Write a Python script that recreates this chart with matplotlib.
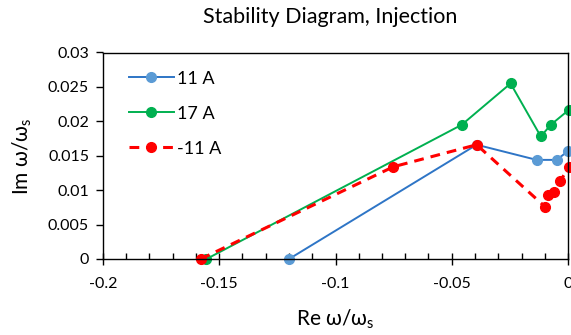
import matplotlib
matplotlib.use("Agg")
import matplotlib.pyplot as plt
from matplotlib.ticker import MultipleLocator, FuncFormatter

plt.rcParams['font.family'] = ['Lato', 'DejaVu Sans']
plt.rcParams['mathtext.default'] = 'regular'

# Re / Im of the normalised frequency for each current
re_11 = [-0.12, -0.0393, -0.0135, -0.0049, 0.0001]
im_11 = [0.0, 0.0166, 0.0144, 0.0144, 0.0157]

re_17 = [-0.1555, -0.0457, -0.0247, -0.0117, -0.0074, 0.0005]
im_17 = [0.0, 0.0195, 0.0255, 0.0178, 0.0195, 0.0217]

re_m11 = [-0.158, -0.0751, -0.0393, -0.0099, -0.0085, -0.006, -0.0034, 0.0005]
im_m11 = [0.0, 0.0134, 0.0166, 0.0076, 0.0093, 0.0098, 0.0113, 0.0134]

fig = plt.figure(figsize=(5.71, 3.35), dpi=100)
ax = fig.add_axes([103 / 571, 1 - 259 / 335, 465 / 571, 206.5 / 335])

ax.plot(re_11, im_11, color='#2E75C6', lw=1.4, marker='o', ms=7,
        mfc='#5B9BD5', mec='#5B9BD5', label='11 A', clip_on=False)
ax.plot(re_17, im_17, color='#00B050', lw=1.4, marker='o', ms=7,
        mfc='#00B050', mec='#00B050', label='17 A', clip_on=False)
ax.plot(re_m11, im_m11, color='#FF0000', lw=2.2, dashes=(3.2, 2.3), marker='o', ms=7,
        mfc='#FF0000', mec='#FF0000', label='-11 A', clip_on=False)

ax.set_xlim(-0.2, 0)
ax.set_ylim(0, 0.03)
ax.xaxis.set_major_locator(MultipleLocator(0.05))
ax.xaxis.set_minor_locator(MultipleLocator(0.01))
ax.yaxis.set_major_locator(MultipleLocator(0.005))
ax.xaxis.set_major_formatter(FuncFormatter(lambda v, p: '%g' % round(v, 4)))
ax.yaxis.set_major_formatter(FuncFormatter(lambda v, p: '%g' % round(v, 4)))

for s in ax.spines.values():
    s.set_color('black')
    s.set_linewidth(1.0)
ax.tick_params(axis='x', which='major', direction='inout', length=8, width=1, labelsize=11.5, pad=9)
ax.tick_params(axis='x', which='minor', direction='in', length=4, width=1)
ax.tick_params(axis='y', which='major', direction='out', length=5, width=1, labelsize=11.5, pad=5)

ax.set_xlabel('Re ω/ω$_{s}$', fontsize=15, labelpad=12)
ax.set_ylabel('Im ω/ω$_{s}$', fontsize=15, labelpad=10)
fig.text(330 / 571, 1 - 17 / 335, 'Stability Diagram, Injection', fontsize=15.5,
         ha='center', va='center')

ax.legend(loc='upper left', bbox_to_anchor=(0.02, 0.99), frameon=False, fontsize=13,
          handlelength=2.5, labelspacing=1.05, handletextpad=0.2)

fig.savefig('out.png', dpi=100)
